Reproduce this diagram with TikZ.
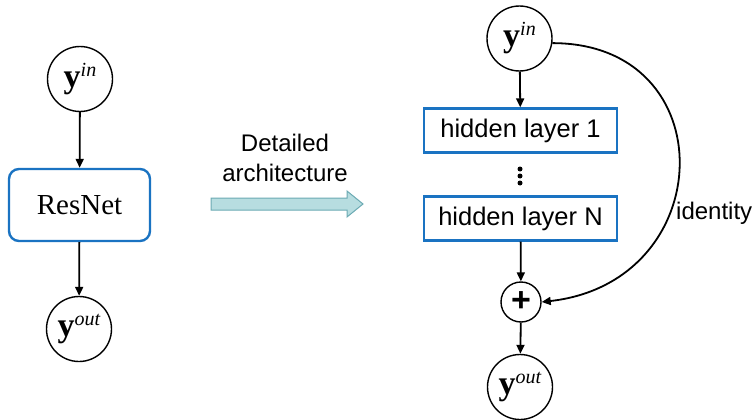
\documentclass[tikz,border=0pt]{standalone}
\usepackage{fontspec}
\setmainfont{Liberation Serif}
\setsansfont{Liberation Sans}
\usetikzlibrary{arrows.meta}
\definecolor{boxblue}{HTML}{1A73C2}
\definecolor{arrfill}{HTML}{B7DDE0}
\definecolor{arrdraw}{HTML}{6BAAB3}
\newcommand{\yvar}[1]{{\fontsize{34}{34}\selectfont\bfseries y}\raisebox{11pt}{\fontsize{20}{20}\selectfont\itshape #1}}
\begin{document}
\begin{tikzpicture}[x=1pt,y=-1pt,
  varnode/.style={circle,draw,line width=1.4pt,minimum size=65pt,inner sep=0pt},
  resbox/.style={draw=boxblue,line width=2.4pt,rounded corners=10pt,minimum width=141pt,minimum height=72pt,inner sep=0pt,font=\fontsize{29}{29}\selectfont},
  layerbox/.style={draw=boxblue,line width=2.2pt,minimum width=193pt,minimum height=44pt,inner sep=0pt,font=\sffamily\fontsize{25.5}{25.5}\selectfont},
  sumnode/.style={circle,draw,line width=1.4pt,minimum size=40pt,inner sep=0pt,font=\sffamily\bfseries\fontsize{34}{34}\selectfont},
  conn/.style={line width=1.8pt,-{Triangle[length=9pt,width=8pt]}},
  lbl/.style={font=\sffamily\fontsize{24}{30}\selectfont,inner sep=0pt},
  dot/.style={circle,fill,inner sep=0pt,minimum size=5pt}
]
\useasboundingbox (0,0) rectangle (752,420);
% left column
\node[varnode] (yinL) at (80,79) {\yvar{in}};
\node[resbox] (resnet) at (79.5,205) {ResNet};
\node[varnode] (youtL) at (79,329) {\yvar{out}};
\draw[conn] (yinL) -- (resnet);
\draw[conn] (resnet) -- (youtL);
% middle arrow
\node[lbl,align=center] (det) at (285,158) {Detailed\\architecture};
\draw[draw=arrdraw,fill=arrfill,line width=1pt]
  (211,198) -- (347,198) -- (347,191) -- (363,204) -- (347,217) -- (347,210) -- (211,210) -- cycle;
% right column
\node[varnode] (yinR) at (519.5,38.5) {\yvar{in}};
\node[layerbox] (h1) at (520.5,130.5) {hidden layer 1};
\node[dot] (d1) at (520,169) {};
\node[dot] (d2) at (520,176) {};
\node[dot] (d3) at (520,183) {};
\node[layerbox] (hN) at (520.5,218.5) {hidden layer N};
\node[sumnode] (plus) at (521,302) {+};
\node[varnode] (youtR) at (520,387) {\yvar{out}};
\draw[conn] (yinR) -- (h1);
\draw[conn] (hN) -- (plus);
\draw[conn] (plus) -- (youtR);
\draw[conn] (yinR.-8) .. controls +(173,0) and +(178,-20) .. (plus.east);
\node[lbl,anchor=west] (ident) at (676,213) {identity};
\end{tikzpicture}
\end{document}
